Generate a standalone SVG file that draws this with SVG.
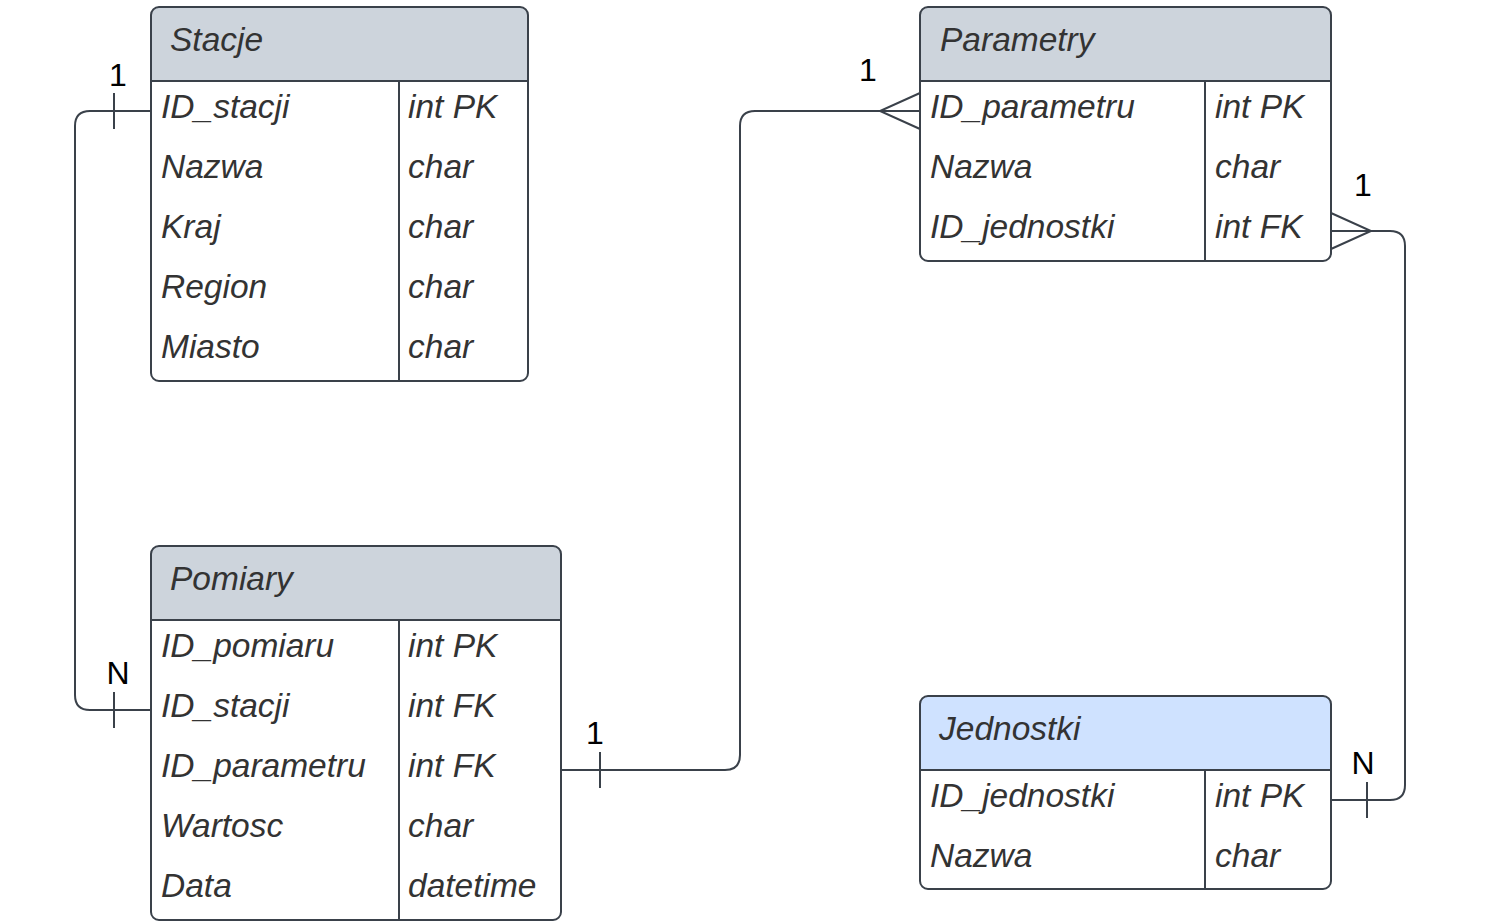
<svg xmlns="http://www.w3.org/2000/svg" width="1490" height="922" viewBox="0 0 1490 922">
<style>
.box{fill:#ffffff;stroke:none}
.outline{fill:none;stroke:#3a414a;stroke-width:2}
.hdr{fill:#cdd4dc;stroke:none}
.hdrb{fill:#cfe2ff;stroke:none}
.ln{stroke:#3a414a;stroke-width:2;fill:none}
.t{font-family:"Liberation Sans",Arial,sans-serif;font-style:italic;font-size:33.5px;fill:#333333}
.lbl{font-family:"Liberation Sans",Arial,sans-serif;font-size:32px;fill:#000000;text-anchor:middle}
.con{stroke:#3a414a;stroke-width:2;fill:none}
</style>
<rect width="1490" height="922" fill="#ffffff"/>
<g id="connectors">
<path class="con" d="M151,111 H90 Q75,111 75,126 V695 Q75,710 90,710 H151"/>
<path class="con" d="M114,93 V129 M114,692 V728"/>
<path class="con" d="M561,770 H725 Q740,770 740,755 V126 Q740,111 755,111 H920"/>
<path class="con" d="M600,752 V788 M920,93 L880,111 L920,129"/>
<path class="con" d="M1331,231 H1390 Q1405,231 1405,246 V785 Q1405,800 1390,800 H1331"/>
<path class="con" d="M1331,213 L1371,231 L1331,249 M1367,782 V818"/>
<text class="lbl" x="118" y="86">1</text>
<text class="lbl" x="118" y="684">N</text>
<text class="lbl" x="595" y="744">1</text>
<text class="lbl" x="868" y="81">1</text>
<text class="lbl" x="1363" y="196">1</text>
<text class="lbl" x="1363" y="774">N</text>
</g>
<g id="stacje">
<rect class="box" x="151" y="7" width="377" height="374" rx="8"/>
<path class="hdr" d="M151,81 V15 Q151,7 159,7 H520 Q528,7 528,15 V81 Z"/>
<rect class="outline" x="151" y="7" width="377" height="374" rx="8"/>
<path class="ln" d="M151,81 H528 M399,81 V381"/>
<text class="t" x="170" y="51">Stacje</text>
<text class="t" x="161" y="118">ID_stacji</text><text class="t" x="408" y="118">int PK</text>
<text class="t" x="161" y="178">Nazwa</text><text class="t" x="408" y="178">char</text>
<text class="t" x="161" y="238">Kraj</text><text class="t" x="408" y="238">char</text>
<text class="t" x="161" y="298">Region</text><text class="t" x="408" y="298">char</text>
<text class="t" x="161" y="358">Miasto</text><text class="t" x="408" y="358">char</text>
</g>
<g id="parametry">
<rect class="box" x="920" y="7" width="411" height="254" rx="8"/>
<path class="hdr" d="M920,81 V15 Q920,7 928,7 H1323 Q1331,7 1331,15 V81 Z"/>
<rect class="outline" x="920" y="7" width="411" height="254" rx="8"/>
<path class="ln" d="M920,81 H1331 M1205,81 V261"/>
<text class="t" x="940" y="51">Parametry</text>
<text class="t" x="930" y="118">ID_parametru</text><text class="t" x="1215" y="118">int PK</text>
<text class="t" x="930" y="178">Nazwa</text><text class="t" x="1215" y="178">char</text>
<text class="t" x="930" y="238">ID_jednostki</text><text class="t" x="1215" y="238">int FK</text>
</g>
<g id="pomiary">
<rect class="box" x="151" y="546" width="410" height="374" rx="8"/>
<path class="hdr" d="M151,620 V554 Q151,546 159,546 H553 Q561,546 561,554 V620 Z"/>
<rect class="outline" x="151" y="546" width="410" height="374" rx="8"/>
<path class="ln" d="M151,620 H561 M399,620 V920"/>
<text class="t" x="170" y="590">Pomiary</text>
<text class="t" x="161" y="657">ID_pomiaru</text><text class="t" x="408" y="657">int PK</text>
<text class="t" x="161" y="717">ID_stacji</text><text class="t" x="408" y="717">int FK</text>
<text class="t" x="161" y="777">ID_parametru</text><text class="t" x="408" y="777">int FK</text>
<text class="t" x="161" y="837">Wartosc</text><text class="t" x="408" y="837">char</text>
<text class="t" x="161" y="897">Data</text><text class="t" x="408" y="897">datetime</text>
</g>
<g id="jednostki">
<rect class="box" x="920" y="696" width="411" height="193" rx="8"/>
<path class="hdrb" d="M920,770 V704 Q920,696 928,696 H1323 Q1331,696 1331,704 V770 Z"/>
<rect class="outline" x="920" y="696" width="411" height="193" rx="8"/>
<path class="ln" d="M920,770 H1331 M1205,770 V889"/>
<text class="t" x="939" y="740">Jednostki</text>
<text class="t" x="930" y="807">ID_jednostki</text><text class="t" x="1215" y="807">int PK</text>
<text class="t" x="930" y="867">Nazwa</text><text class="t" x="1215" y="867">char</text>
</g>
</svg>
